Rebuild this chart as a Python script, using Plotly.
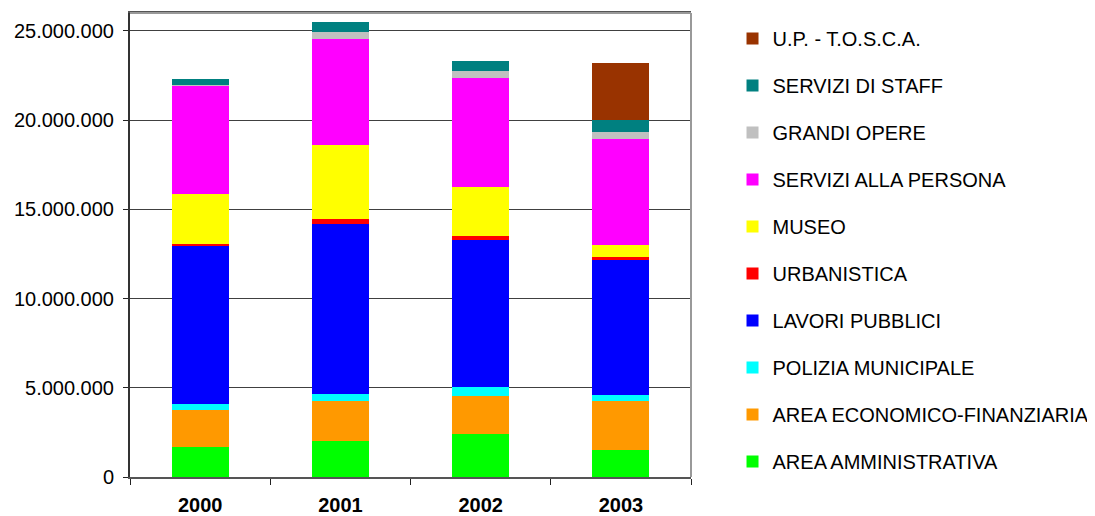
import plotly.graph_objects as go

years = ["2000", "2001", "2002", "2003"]

area_amministrativa = [1665000, 2000000, 2410000, 1500000]
area_economico_finanziaria = [2090000, 2240000, 2150000, 2740000]
polizia_municipale = [320000, 400000, 470000, 340000]
lavori_pubblici = [8875000, 9540000, 8240000, 7570000]
urbanistica = [110000, 270000, 220000, 170000]
museo = [2800000, 4140000, 2750000, 670000]
servizi_alla_persona = [6060000, 5940000, 6110000, 5940000]
grandi_opere = [50000, 400000, 390000, 380000]
servizi_di_staff = [320000, 560000, 560000, 680000]
up_tosca = [0, 0, 0, 3190000]

series = [
    ("AREA AMMINISTRATIVA", area_amministrativa, "#00FF00"),
    ("AREA ECONOMICO-FINANZIARIA", area_economico_finanziaria, "#FF9900"),
    ("POLIZIA MUNICIPALE", polizia_municipale, "#00FFFF"),
    ("LAVORI PUBBLICI", lavori_pubblici, "#0000FF"),
    ("URBANISTICA", urbanistica, "#FF0000"),
    ("MUSEO", museo, "#FFFF00"),
    ("SERVIZI ALLA PERSONA", servizi_alla_persona, "#FF00FF"),
    ("GRANDI OPERE", grandi_opere, "#C0C0C0"),
    ("SERVIZI DI STAFF", servizi_di_staff, "#008080"),
    ("U.P. - T.O.S.C.A.", up_tosca, "#993300"),
]

fig = go.Figure()
for i, (name, vals, color) in enumerate(series):
    fig.add_trace(go.Bar(
        x=years, y=vals, name=name, legendgroup=name,
        legendrank=1000 - i,
        marker=dict(color=color, line=dict(width=0)),
    ))

font_family = "Liberation Sans, Arial, sans-serif"

# page body has an 8px default margin; the figure is sized to fill the rest
fig.update_layout(
    width=1087, height=508,
    barmode="stack", bargap=0.594,
    separators=",.",
    paper_bgcolor="white", plot_bgcolor="white",
    margin=dict(l=122, r=404, t=5, b=39, autoexpand=False),
    font=dict(family=font_family, size=20, color="black"),
    showlegend=True,
    legend=dict(
        x=1.0740, xref="paper", xanchor="left",
        y=0.9869, yanchor="top",
        traceorder="grouped",
        tracegroupgap=18,
        itemwidth=30,
        maxheight=1,
        font=dict(family=font_family, size=20, color="black"),
        bgcolor="rgba(0,0,0,0)",
    ),
    xaxis=dict(
        showgrid=False,
        ticks="outside", tickson="boundaries", ticklen=6, tickcolor="#222",
        tickfont=dict(family=font_family, size=20, color="black", weight="bold"),
        ticklabelstandoff=9,
        showline=True, linecolor="#555", linewidth=2,
        mirror=True,
    ),
    yaxis=dict(
        range=[0, 26000000],
        tickvals=[0, 5000000, 10000000, 15000000, 20000000, 25000000],
        tickformat=",d",
        showgrid=True, gridcolor="#404040", gridwidth=1,
        ticks="outside", ticklen=5, tickcolor="#222",
        ticklabelstandoff=5,
        showline=True, linecolor="#333", linewidth=2,
        mirror=False,
        zeroline=False,
    ),
    shapes=[
        dict(type="line", xref="paper", yref="paper", x0=1, x1=1, y0=0, y1=1,
             line=dict(color="#999999", width=2)),
        dict(type="line", xref="paper", yref="paper", x0=0, x1=1, y0=1, y1=1,
             line=dict(color="#999999", width=2)),
    ],
)

fig.write_html("out.html")
